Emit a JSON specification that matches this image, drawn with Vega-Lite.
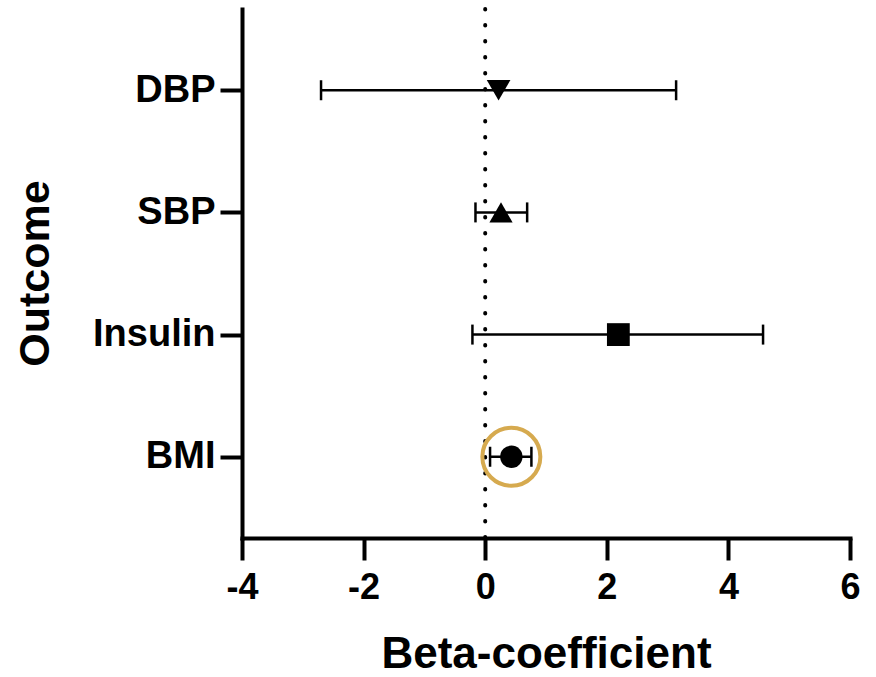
{
  "$schema": "https://vega.github.io/schema/vega-lite/v6.json",
  "autosize": "none",
  "width": 608,
  "height": 529,
  "padding": {"left": 242, "top": 9, "right": 26, "bottom": 139},
  "background": "white",
  "datasets": {
    "est": [
      {"Outcome": "DBP", "beta": 0.22, "lo": -2.70, "hi": 3.14, "shape": "triangle-down"},
      {"Outcome": "SBP", "beta": 0.26, "lo": -0.16, "hi": 0.69, "shape": "triangle-up"},
      {"Outcome": "Insulin", "beta": 2.19, "lo": -0.21, "hi": 4.57, "shape": "square"},
      {"Outcome": "BMI", "beta": 0.43, "lo": 0.08, "hi": 0.76, "shape": "circle"}
    ],
    "ref": [{"ref": 0}]
  },
  "layer": [
    {
      "data": {"name": "ref"},
      "mark": {"type": "rule", "color": "black", "strokeWidth": 4, "strokeDash": [0.5, 15.5], "strokeCap": "round"},
      "encoding": {
        "x": {"field": "ref", "type": "quantitative", "scale": {"domain": [-4, 6], "nice": false, "zero": false}}
      }
    },
    {
      "data": {"name": "est"},
      "mark": {"type": "rule", "color": "black", "strokeWidth": 2.5, "opacity": 1},
      "encoding": {
        "y": {"field": "Outcome", "type": "nominal"},
        "x": {"field": "lo", "type": "quantitative"},
        "x2": {"field": "hi"}
      }
    },
    {
      "data": {"name": "est"},
      "mark": {"type": "tick", "color": "black", "size": 20, "thickness": 2.5, "orient": "vertical", "opacity": 1},
      "encoding": {
        "y": {"field": "Outcome", "type": "nominal"},
        "x": {"field": "lo", "type": "quantitative"}
      }
    },
    {
      "data": {"name": "est"},
      "mark": {"type": "tick", "color": "black", "size": 20, "thickness": 2.5, "orient": "vertical", "opacity": 1},
      "encoding": {
        "y": {"field": "Outcome", "type": "nominal"},
        "x": {"field": "hi", "type": "quantitative"}
      }
    },
    {
      "data": {"name": "est"},
      "mark": {"type": "point", "filled": true, "color": "black", "opacity": 1},
      "encoding": {
        "y": {"field": "Outcome", "type": "nominal"},
        "x": {"field": "beta", "type": "quantitative"},
        "shape": {"field": "shape", "type": "nominal", "scale": null, "legend": null},
        "size": {
          "field": "shape", "type": "nominal", "legend": null,
          "scale": {"domain": ["triangle-down", "triangle-up", "square", "circle"], "range": [560, 500, 484, 484]}
        }
      }
    },
    {
      "data": {"name": "est"},
      "transform": [{"filter": "datum.Outcome === 'BMI'"}],
      "mark": {"type": "point", "shape": "circle", "filled": false, "stroke": "#d6aa4f", "strokeWidth": 4, "size": 3364, "opacity": 1},
      "encoding": {
        "y": {"field": "Outcome", "type": "nominal"},
        "x": {"field": "beta", "type": "quantitative"}
      }
    }
  ],
  "encoding": {
    "x": {
      "type": "quantitative",
      "scale": {"domain": [-4, 6], "nice": false, "zero": false},
      "axis": {
        "title": "Beta-coefficient",
        "values": [-4, -2, 0, 2, 4, 6],
        "labelExpr": "replace(datum.label, '−', '-')",
        "grid": false,
        "domainWidth": 4,
        "tickWidth": 4,
        "tickSize": 22,
        "labelPadding": 10,
        "labelFontSize": 36,
        "titleFontSize": 44,
        "titleY": 129,
        "titleBaseline": "alphabetic"
      }
    },
    "y": {
      "type": "nominal",
      "sort": ["DBP", "SBP", "Insulin", "BMI"],
      "scale": {"type": "point", "padding": 0.665},
      "axis": {
        "title": "Outcome",
        "grid": false,
        "domainWidth": 4,
        "tickWidth": 4,
        "tickSize": 22,
        "labelPadding": 5,
        "labelFontSize": 38,
        "titleFontSize": 43,
        "titleX": -185,
        "titleY": 264
      }
    }
  },
  "config": {
    "view": {"stroke": null},
    "axis": {
      "domainColor": "black",
      "tickColor": "black",
      "labelColor": "black",
      "titleColor": "black",
      "labelFont": "Liberation Sans",
      "titleFont": "Liberation Sans",
      "labelFontWeight": "bold",
      "titleFontWeight": "bold",
      "labelFlush": false,
      "domainCap": "square"
    }
  }
}
